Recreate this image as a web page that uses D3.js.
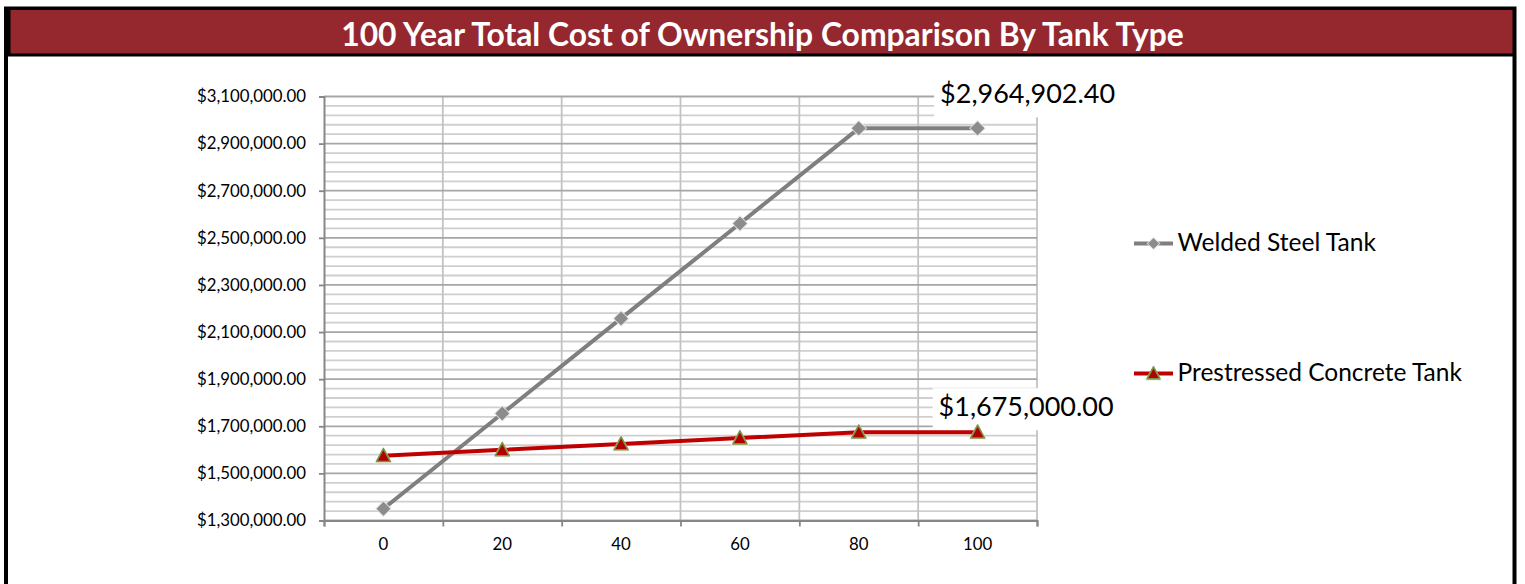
<!DOCTYPE html>
<html><head><meta charset="utf-8">
<script src="https://cdn.jsdelivr.net/npm/d3@7"></script>
<style>
body{margin:0;background:#fff;}
svg{display:block;font-family:Lato,'Open Sans',sans-serif;}
</style>
</head><body>
<svg id="chart" width="1525" height="584"></svg>
<script>
// ---------- data ----------
const chartTitle = "100 Year Total Cost of Ownership Comparison By Tank Type";
const years = ["0","20","40","60","80","100"];
const seriesNames = ["Welded Steel Tank", "Prestressed Concrete Tank"];
const weldedSteel = [1350000, 1754000, 2158000, 2561000, 2964902.40, 2964902.40];
const prestressedConcrete = [1575000, 1600000, 1625000, 1650000, 1675000, 1675000];
const yTickValues = [1300000, 1500000, 1700000, 1900000, 2100000, 2300000, 2500000, 2700000, 2900000, 3100000];
const yMinorStep = 40000;
const labelledPoints = [ // [series index, category index]
  [0, 5],
  [1, 5]
];

// ---------- layout ----------
const svg = d3.select("#chart");
const W = 1525, H = 584;
const plot = {left: 324, right: 1037, top: 96.5, bottom: 520.5};
const money = v => "$" + d3.format(",.2f")(v);

function fitWidth(sel, target) {
  const n = sel.node();
  const fs = parseFloat(sel.style("font-size"));
  const L = n.getComputedTextLength();
  const nf = fs * target / L;
  sel.style("font-size", nf + "px");
  return nf;
}

// frame
svg.append("rect").attr("x", 4).attr("y", 6.5).attr("width", 1513 - 0.5).attr("height", H).attr("fill", "#000");
svg.append("rect").attr("x", 8).attr("y", 56.5).attr("width", 1504.5).attr("height", H).attr("fill", "#fff");
svg.append("rect").attr("x", 10.5).attr("y", 10).attr("width", 1502).attr("height", 43.5).attr("fill", "#94282E");
const titleText = svg.append("text")
  .attr("x", 762.5).attr("y", 46)
  .attr("text-anchor", "middle")
  .attr("fill", "#fff").style("font-weight", "700").style("font-size", "28px")
  .text(chartTitle);
fitWidth(titleText, 843);

// scales
const x = d3.scaleBand().domain(years).range([plot.left, plot.right]).padding(0);
const xc = d => x(d) + x.bandwidth() / 2;
const y = d3.scaleLinear().domain([1300000, 3100000]).range([plot.bottom, plot.top]);

const g = svg.append("g");

// minor horizontal gridlines
const minorVals = d3.range(1300000, 3100000 + 1, yMinorStep).filter(v => !yTickValues.includes(v));
g.append("g").selectAll("line").data(minorVals).join("line")
  .attr("x1", plot.left).attr("x2", plot.right)
  .attr("y1", d => y(d)).attr("y2", d => y(d))
  .attr("stroke", "#cfcfcf").attr("stroke-width", 1.8);

// vertical gridlines (category boundaries)
const boundaries = years.map(d => x(d)).concat([plot.right]).slice(1);
g.append("g").selectAll("line").data(boundaries).join("line")
  .attr("x1", d => d).attr("x2", d => d)
  .attr("y1", plot.top).attr("y2", plot.bottom)
  .attr("stroke", "#c3c3c3").attr("stroke-width", 1.8);

// major horizontal gridlines
g.append("g").selectAll("line").data(yTickValues).join("line")
  .attr("x1", plot.left).attr("x2", plot.right)
  .attr("y1", d => y(d)).attr("y2", d => y(d))
  .attr("stroke", "#a6a6a6").attr("stroke-width", 1.8);

// y axis
const yAxis = svg.append("g").attr("transform", `translate(${plot.left},0)`)
  .call(d3.axisLeft(y).tickValues(yTickValues).tickFormat(money).tickSize(5).tickPadding(13));
yAxis.select(".domain").attr("stroke", "#878787").attr("stroke-width", 2);
yAxis.selectAll(".tick line").attr("stroke", "#878787").attr("stroke-width", 1.8);
yAxis.selectAll("text").attr("fill", "#000").style("font-family", "Lato,'Open Sans',sans-serif").style("font-size", "17px");
const topLabel = yAxis.selectAll(".tick text").filter(d => d === 3100000);
const tickFs = fitWidth(topLabel, 109);
yAxis.selectAll("text").style("font-size", tickFs + "px");

// x axis: boundary ticks
const xb = d3.scaleLinear().domain([0, years.length]).range([plot.left, plot.right]);
const xTicksAxis = svg.append("g").attr("transform", `translate(0,${plot.bottom})`)
  .call(d3.axisBottom(xb).ticks(years.length).tickFormat("").tickSize(6));
xTicksAxis.select(".domain").attr("stroke", "#878787").attr("stroke-width", 2);
xTicksAxis.selectAll(".tick line").attr("stroke", "#878787").attr("stroke-width", 1.8);
// x axis labels at band centers
const xLabAxis = svg.append("g").attr("transform", `translate(0,${plot.bottom})`)
  .call(d3.axisBottom(x).tickSize(0).tickPadding(18));
xLabAxis.select(".domain").remove();
xLabAxis.selectAll("text").attr("fill", "#000").style("font-family", "Lato,'Open Sans',sans-serif").style("font-size", tickFs + "px");

// data label boxes (white background behind labels)
const seriesData = [weldedSteel, prestressedConcrete];
const labelOffsets = [{dx: 50, dy: -25}, {dx: 48.5, dy: -16}];
const labelLayer = svg.append("g");
const labelTexts = labelledPoints.map((p, i) => {
  const [si, ci] = p;
  const px = xc(years[ci]), py = y(seriesData[si][ci]);
  const t = svg.append("text")
    .attr("x", px + labelOffsets[i].dx).attr("y", py + labelOffsets[i].dy)
    .attr("text-anchor", "middle").attr("fill", "#000")
    .style("font-size", "28px")
    .text(money(seriesData[si][ci]));
  fitWidth(t, 175);
  return t;
});
labelTexts.forEach(t => {
  const b = t.node().getBBox();
  const base = +t.attr("y");
  labelLayer.append("rect")
    .attr("x", b.x - 6).attr("width", b.width + 10)
    .attr("y", base - 28).attr("height", 42)
    .attr("fill", "#fff");
});

// series
const line = d3.line().x((d, i) => xc(years[i])).y(d => y(d));
const colors = ["#7f7f7f", "#c00000"];
const seriesLayer = svg.append("g");
seriesData.forEach((s, si) => {
  seriesLayer.append("path").datum(s)
    .attr("d", line).attr("fill", "none")
    .attr("stroke", colors[si]).attr("stroke-width", 4)
    .attr("stroke-linejoin", "round");
});

const diamond = r => `M0,${-r}L${r},0L0,${r}L${-r},0Z`;
const triangle = (w, h) => `M0,${-h * 0.55}L${w / 2},${h * 0.45}L${-w / 2},${h * 0.45}Z`;

function drawMarker(sel, si, big) {
  if (si === 0) {
    const r = big ? 7 : 5.5;
    sel.append("path").attr("d", diamond(r + 1.5)).attr("fill", "#e6e6e6").attr("opacity", 0.8);
    sel.append("path").attr("d", diamond(r)).attr("fill", "#8c8c8c");
  } else {
    const w = big ? 14 : 13, h = big ? 13 : 12;
    sel.append("path").attr("d", triangle(w + 4, h + 4)).attr("fill", "#ecefe2").attr("opacity", 0.8);
    sel.append("path").attr("d", triangle(w, h)).attr("fill", "#b00000")
      .attr("stroke", "#7e9444").attr("stroke-width", 1.6).attr("stroke-linejoin", "round");
  }
}
seriesData.forEach((s, si) => {
  s.forEach((v, i) => {
    const m = seriesLayer.append("g").attr("transform", `translate(${xc(years[i])},${y(v)})`);
    drawMarker(m, si, true);
  });
});

// raise label texts above everything
labelTexts.forEach(t => t.raise());

// legend
const legendY = [243.5, 373.5];
const legend = svg.append("g");
seriesNames.forEach((name, si) => {
  const ly = legendY[si];
  legend.append("line").attr("x1", 1134).attr("x2", 1173).attr("y1", ly).attr("y2", ly)
    .attr("stroke", colors[si]).attr("stroke-width", 4);
  const m = legend.append("g").attr("transform", `translate(1153.5,${ly})`);
  drawMarker(m, si, false);
  const t = legend.append("text").attr("x", 1177.5).attr("y", ly + 7.3)
    .attr("fill", "#000").style("font-size", "22px").text(name);
  fitWidth(t, si === 0 ? 198.5 : 284.5);
});
</script>
</body></html>
